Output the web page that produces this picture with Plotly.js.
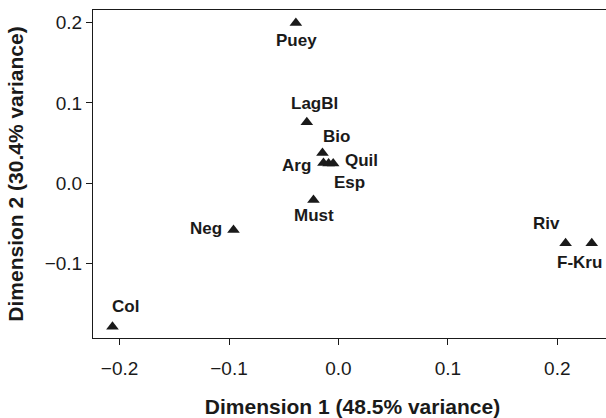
<!DOCTYPE html>
<html>
<head>
<meta charset="utf-8">
<script src="https://cdn.plot.ly/plotly-3.0.1.min.js"></script>
<style>
html,body{margin:0;padding:0;overflow:hidden;background:#fff;}
#chart{width:612px;height:418px;}
</style>
</head>
<body>
<div id="chart"></div>
<script>
// Data
const sites = ['Puey','LagBl','Bio','Arg','Quil','Esp','Must','Neg','Riv','F-Kru','Col'];
const dim1  = [-0.0389,-0.0289,-0.0146,-0.0137,-0.0090,-0.0048,-0.0228,-0.0959,0.2076,0.2315,-0.2065];
const dim2  = [0.1998,0.0761,0.0377,0.0250,0.0244,0.0244,-0.0210,-0.0584,-0.0750,-0.0750,-0.1792];
const xTitle = 'Dimension 1 (48.5% variance)';
const yTitle = 'Dimension 2 (30.4% variance)';
const xTicks = [-0.2,-0.1,0.0,0.1,0.2];
const yTicks = [-0.1,0.0,0.1,0.2];

// label placement (pixel offsets: right, down)
const labelDx = [1, 8, 14, -27, 33, 16, 1, -28, -19, -12, 13];
const labelDy = [17.5, -18.5, -16.5, 2, -3.5, 18.5, 16, -1.5, -20, 19.5, -20];

const ink = '#1a1a1a';
const font = 'Liberation Sans, Arial, Helvetica, sans-serif';

const annotations = sites.map((s,i)=>({
  x: dim1[i], y: dim2[i], xref:'x', yref:'y', text: '<b>'+s+'</b>',
  showarrow:false, xshift: labelDx[i], yshift: -labelDy[i],
  xanchor:'center', yanchor:'middle',
  font:{family:font, size:17, color:ink}
}));

const trace = {
  x: dim1, y: dim2, type:'scatter', mode:'markers',
  marker:{symbol:'triangle-up', size:11, color:ink, line:{width:0}},
  hoverinfo:'skip'
};

const axisCommon = {
  showgrid:false, zeroline:false, showline:true, mirror:true,
  linecolor:ink, linewidth:1, ticks:'outside', ticklen:6, tickwidth:1, tickcolor:ink,
  tickfont:{family:font, size:19, color:ink}
};

const layout = {
  width:612, height:418,
  margin:{l:93, r:0, t:10, b:80},
  paper_bgcolor:'#fff', plot_bgcolor:'#fff',
  showlegend:false,
  xaxis: Object.assign({}, axisCommon, {
    range:[-0.2243, 0.2500], tickvals:xTicks, ticktext:xTicks.map(v=>v.toFixed(1).replace('-','\u2212')),
    ticklabelstandoff:7,
    title:{text:'<b>'+xTitle+'</b>', font:{family:font, size:21, color:ink}, standoff:21}
  }),
  yaxis: Object.assign({}, axisCommon, {
    range:[-0.1932, 0.2160], tickvals:yTicks, ticktext:yTicks.map(v=>v.toFixed(1).replace('-','\u2212')),
    title:{text:'<b>'+yTitle+'</b>', font:{family:font, size:21, color:ink}, standoff:15}
  }),
  annotations: annotations
};

Plotly.newPlot('chart', [trace], layout, {staticPlot:true, displayModeBar:false});
</script>
</body>
</html>
